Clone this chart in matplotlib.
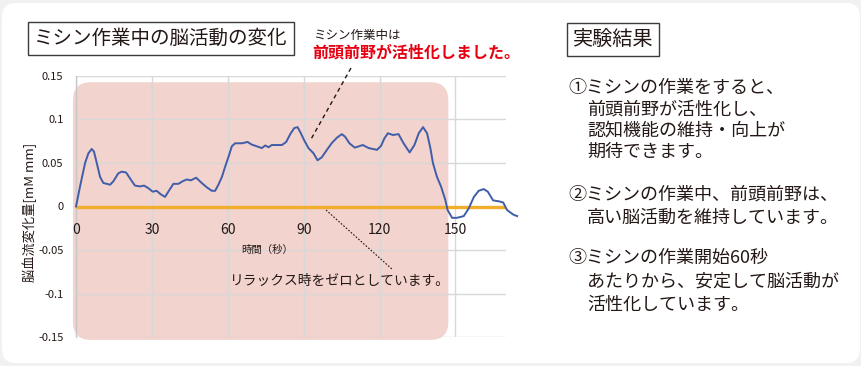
import matplotlib
matplotlib.use("Agg")
import matplotlib.pyplot as plt
from matplotlib.patches import FancyBboxPatch
from matplotlib.lines import Line2D
from matplotlib.transforms import IdentityTransform

plt.rcParams['font.family'] = ['Noto Sans CJK JP', 'DejaVu Sans']

# ---- data ----
time_s = [0, 1.6, 3.6, 4.9, 6.2, 7.1, 8.2, 9.5, 10.8, 13.5, 14.8, 16.7, 18.1, 19.8,
          21.4, 23.3, 25.3, 26.9, 28.6, 30.3, 31.9, 33.5, 35.2, 36.5, 38.5, 40.5,
          42.2, 43.8, 45.4, 47.5, 49.7, 51.7, 53.7, 55.0, 56.3, 57.7, 59.0, 60.3,
          61.6, 62.9, 65.6, 67.8, 69.5, 71.5, 73.5, 74.8, 76.1, 77.4, 81.4, 83.1,
          84.7, 86.3, 87.6, 88.9, 90.2, 91.9, 93.9, 95.5, 97.2, 99.2, 101.2, 103.2,
          105.1, 106.4, 108.1, 110.2, 113.4, 115.7, 119.0, 120.6, 121.9, 123.3,
          125.3, 127.5, 129.5, 131.9, 133.8, 135.5, 137.2, 138.8, 140.1, 141.1,
          142.7, 144.3, 146.0, 146.9, 148.7, 150.6, 153.3, 155.3, 157.3, 159.2,
          161.2, 162.8, 164.9, 167.1, 168.9, 170.4, 173.0, 174.4]
blood_flow = [0.0, 0.023, 0.050, 0.061, 0.066, 0.063, 0.050, 0.034, 0.027, 0.025,
              0.029, 0.038, 0.040, 0.039, 0.032, 0.024, 0.023, 0.024, 0.021, 0.017,
              0.018, 0.014, 0.011, 0.017, 0.026, 0.026, 0.029, 0.031, 0.030, 0.033,
              0.027, 0.022, 0.018, 0.018, 0.025, 0.034, 0.046, 0.057, 0.069, 0.0725,
              0.0725, 0.074, 0.071, 0.069, 0.067, 0.070, 0.068, 0.0705, 0.0705, 0.074,
              0.083, 0.090, 0.091, 0.084, 0.076, 0.067, 0.061, 0.053, 0.0565, 0.065,
              0.073, 0.079, 0.083, 0.080, 0.0725, 0.0675, 0.0705, 0.067, 0.065, 0.0695,
              0.078, 0.084, 0.082, 0.083, 0.0725, 0.062, 0.0705, 0.084, 0.091, 0.084,
              0.067, 0.050, 0.034, 0.023, 0.0077, -0.004, -0.013, -0.013, -0.011,
              -0.002, 0.011, 0.018, 0.020, 0.017, 0.007, 0.006, 0.0046, -0.004,
              -0.0095, -0.011]
x_ticks = [0, 30, 60, 90, 120, 150]
y_ticks = [-0.15, -0.1, -0.05, 0, 0.05, 0.1, 0.15]
y_tick_labels = ["-0.15", "-0.1", "-0.05", "0", "0.05", "0.1", "0.15"]
baseline = [0, 0]
baseline_t = [0, 170]

chart_title = "ミシン作業中の脳活動の変化"
y_label = "脳血流変化量[mM mm]"
x_label = "時間（秒）"
note_small = "ミシン作業中は"
note_red = "前頭前野が活性化しました。"
note_zero = "リラックス時をゼロとしています。"
results_title = "実験結果"
results = [
    ["①ミシンの作業をすると、", "前頭前野が活性化し、", "認知機能の維持・向上が", "期待できます。"],
    ["②ミシンの作業中、前頭前野は、", "高い脳活動を維持しています。"],
    ["③ミシンの作業開始60秒", "あたりから、安定して脳活動が", "活性化しています。"],
]

W, H = 862, 366
fig = plt.figure(figsize=(W / 100, H / 100), dpi=100)
fig.patch.set_facecolor("#F1F1F1")

def px(x, y):
    return (x / W, 1 - y / H)

ident = IdentityTransform()

# white rounded panel
panel = FancyBboxPatch((2 + 14, 3 + 14), W - 4 - 28, H - 6 - 28,
                       boxstyle="round,pad=14", fc="white", ec="none",
                       transform=ident, zorder=-3)
fig.patches.append(panel)

ax = fig.add_axes([76 / W, 1 - 337.3 / H, 430 / W, (337.3 - 75.7) / H])
ax.set_facecolor("none")
ax.set_xlim(0, 170)
ax.set_ylim(-0.15, 0.15)
ax.set_yticks(y_ticks)
ax.set_yticklabels(y_tick_labels, fontsize=8, color="#231815")
ax.set_xticks(x_ticks)
ax.set_xticklabels([])
ax.tick_params(length=0, pad=9)
ax.grid(True, color="#D8D8D8", lw=1)
ax.set_axisbelow(True)
for s in ["top", "right", "bottom"]:
    ax.spines[s].set_visible(False)
ax.spines["left"].set_color("#C8C8C8")
ax.spines["left"].set_linewidth(1)

# pink rounded region
fig.canvas.draw()
(x0, y0) = ax.transData.transform((-1.2, -0.153))
(x1, y1) = ax.transData.transform((147.2, 0.1425))
r = 18
pink = FancyBboxPatch((x0 + r, y0 + r), (x1 - x0) - 2 * r, (y1 - y0) - 2 * r,
                      boxstyle=f"round,pad={r}", fc="#F2D3CD", ec="none",
                      transform=ident, zorder=-1)
fig.patches.append(pink)

ax.plot(baseline_t, baseline, color="#F3AD2C", lw=2.4, zorder=3, solid_capstyle="butt")
ax.plot(time_s, blood_flow, color="#3F5DA8", lw=1.4, zorder=4, clip_on=False)

for t in x_ticks:
    ax.text(t, -0.0265, str(t), ha="center", va="center", fontsize=10, color="#231815")
ax.text(75.6, -0.0495, x_label, ha="center", va="center", fontsize=7.5, color="#231815")

fig.text(*px(30, 212), y_label, rotation=90, ha="center", va="center",
         fontsize=9.5, color="#231815")

# title box
fig.text(*px(161, 38.5), chart_title, ha="center", va="center", fontsize=14,
         color="#231815",
         bbox=dict(boxstyle="square,pad=0.3", fc="white", ec="#3E3A39", lw=1))

# annotations
fig.text(*px(313, 36), note_small, ha="left", va="center", fontsize=9, color="#231815")
fig.text(*px(312, 53), note_red, ha="left", va="center", fontsize=11.5,
         color="#E60012", fontweight="bold")
fig.add_artist(Line2D([351 / W, 310 / W], [1 - 68 / H, 1 - 141 / H], color="#231815",
                      lw=1, ls=(0, (3, 2.5)), zorder=5))
fig.add_artist(Line2D([326 / W, 393 / W], [1 - 210 / H, 1 - 270 / H], color="#231815",
                      lw=0.8, ls=(0, (1.5, 1.5)), zorder=5))
fig.text(*px(230, 281), note_zero, ha="left", va="center", fontsize=9.9, color="#231815")

# results panel
fig.text(*px(613, 39.5), results_title, ha="center", va="center", fontsize=14.5,
         color="#231815",
         bbox=dict(boxstyle="square,pad=0.3", fc="white", ec="#3E3A39", lw=1))
line_y = [[88, 110, 131, 152], [195, 218], [258, 282, 305]]
for item, ys in zip(results, line_y):
    for i, (txt, yy) in enumerate(zip(item, ys)):
        fig.text(*px(568 if i == 0 else 587, yy), txt, ha="left", va="center",
                 fontsize=13, color="#231815")

fig.savefig("out.png", dpi=100, facecolor=fig.get_facecolor())
